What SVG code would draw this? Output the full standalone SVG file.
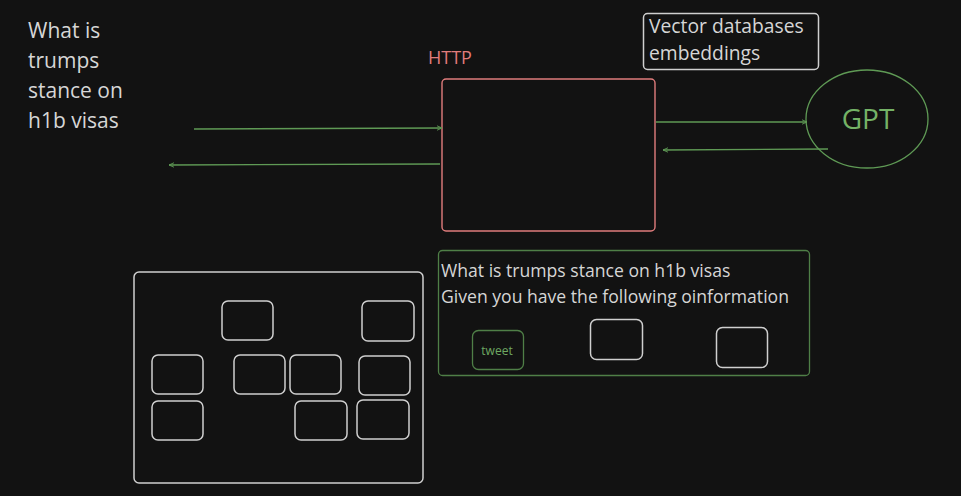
<svg xmlns="http://www.w3.org/2000/svg" width="961" height="496" viewBox="0 0 961 496">
<defs>
<style>
text{font-family:"Open Sans","Noto Sans","Liberation Sans",sans-serif;}
.t{fill:#d6d6d6;font-size:21px;}
.v{fill:#d6d6d6;font-size:19.3px;}
.p{fill:#d6d6d6;font-size:17.6px;}
.box{fill:none;stroke:#cfcfcf;stroke-width:1.5;}
.g{fill:none;stroke:#5f9a55;stroke-width:1.3;}
.conn{stroke:#5f9a55;stroke-width:1.3;fill:none;}
</style>
<marker id="ah" viewBox="0 0 10 10" refX="9" refY="5" markerWidth="6" markerHeight="6" orient="auto-start-reverse" markerUnits="userSpaceOnUse">
<path d="M0,1 L9,5 L0,9" fill="none" stroke="#5f9a55" stroke-width="1.5"/>
</marker>
</defs>
<rect width="961" height="496" fill="#121212"/>

<g id="question">
<text class="t" x="28" y="38">What is</text>
<text class="t" x="28" y="68">trumps</text>
<text class="t" x="28" y="98">stance on</text>
<text class="t" x="28" y="128">h1b visas</text>
</g>

<g id="http">
<text x="428" y="64" fill="#e07c7c" font-size="18">HTTP</text>
<rect x="442" y="79" width="213" height="152" rx="4" fill="none" stroke="#e07c7c" stroke-width="1.4"/>
</g>

<g id="vector-db">
<rect x="643.500" y="13.500" width="175" height="56" rx="4" class="box"/>
<text class="v" x="649" y="33">Vector databases</text>
<text class="v" x="649" y="60">embeddings</text>
</g>

<g id="gpt">
<ellipse cx="867" cy="119" rx="61" ry="49" class="g"/>
<text x="868" y="129" text-anchor="middle" fill="#74b266" font-size="28">GPT</text>
</g>

<g id="connectors">
<line x1="194" y1="129" x2="442" y2="128" class="conn" marker-end="url(#ah)"/>
<line x1="440" y1="164" x2="169" y2="165" class="conn" marker-end="url(#ah)"/>
<line x1="656" y1="122" x2="807" y2="122" class="conn" marker-end="url(#ah)"/>
<line x1="828" y1="149" x2="663" y2="150" class="conn" marker-end="url(#ah)"/>
</g>

<g id="store">
<rect x="134" y="272" width="289" height="211" rx="5" class="box"/>
<rect x="222" y="301" width="51" height="39" rx="6" class="box"/>
<rect x="362" y="301" width="52" height="40" rx="6" class="box"/>
<rect x="152" y="355" width="51" height="39" rx="6" class="box"/>
<rect x="234" y="355" width="51" height="39" rx="6" class="box"/>
<rect x="290" y="355" width="51" height="39" rx="6" class="box"/>
<rect x="359" y="356" width="51" height="39" rx="6" class="box"/>
<rect x="152" y="401" width="51" height="39" rx="6" class="box"/>
<rect x="295" y="401" width="52" height="39" rx="6" class="box"/>
<rect x="357" y="400" width="52" height="39" rx="6" class="box"/>
</g>

<g id="prompt">
<rect x="438.500" y="250.500" width="371" height="125" rx="4" fill="none" stroke="#4f7f47" stroke-width="1.3"/>
<text class="p" x="441" y="277">What is trumps stance on h1b visas</text>
<text class="p" x="441" y="303">Given you have the following oinformation</text>
</g>

<g id="tweet">
<rect x="472.500" y="330.500" width="51" height="39" rx="6" fill="none" stroke="#4f7f47" stroke-width="1.3"/>
<text x="497" y="355" text-anchor="middle" fill="#6ea862" font-size="12">tweet</text>
</g>
<g id="doc2">
<rect x="590.500" y="319.500" width="52" height="40" rx="6" class="box"/>
</g>
<g id="doc3">
<rect x="716.500" y="327.500" width="51" height="40" rx="6" class="box"/>
</g>
</svg>
